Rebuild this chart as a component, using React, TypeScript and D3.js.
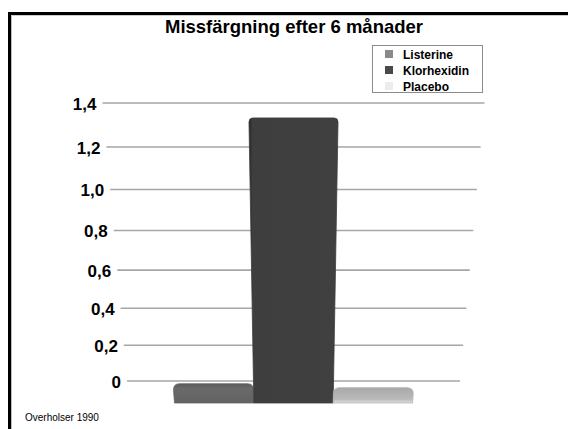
import React from "react";
import * as d3 from "d3";

const title = "Missfärgning efter 6 månader";
const categories = ["Listerine", "Klorhexidin", "Placebo"];
const values = [0.1, 1.33, 0.08];
const tickValues = [0, 0.2, 0.4, 0.6, 0.8, 1.0, 1.2, 1.4];
const tickLabels = ["0", "0,2", "0,4", "0,6", "0,8", "1,0", "1,2", "1,4"];
const source = "Overholser 1990";

const barColors = ["#646464", "#3e3e3e", "#b6b6b6"];
const legendColors = ["#8a8a8a", "#4a4a4a", "#ececec"];

const W = 568;
const H = 429;
const cx = 293.5;
const vMax = 1.4;
const k = 1.13;
// projective easing (tilted plane)
const persp = (t: number) => t / (k - (k - 1) * t);

const wallY = d3.scaleLinear().domain([0, 1]).range([381, 103]);
const frontY = d3.scaleLinear().domain([0, 1]).range([403, 101]);
const widthAtY = d3.scaleLinear().domain([381, 103]).range([333, 382]);
const band = d3.scaleBand<string>().domain(categories).range([-119, 119]).padding(0);

const yWall = (v: number) => wallY(persp(v / vMax));
const yFront = (v: number) => frontY(persp(v / vMax));
const xAt = (u: number, y: number) => cx + (u * (widthAtY(y) * 0.8 + widthAtY(403) * 0.2)) / widthAtY(403);

function barPath(u0: number, u1: number, yTop: number, yBot: number, r: number) {
  const xl0 = xAt(u0, yBot), xr0 = xAt(u1, yBot);
  const xl1 = xAt(u0, yTop), xr1 = xAt(u1, yTop);
  const p = d3.path();
  p.moveTo(xl0, yBot);
  p.lineTo(xl1, yTop + r);
  p.quadraticCurveTo(xl1, yTop, xl1 + r, yTop);
  p.lineTo(xr1 - r, yTop);
  p.quadraticCurveTo(xr1, yTop, xr1, yTop + r);
  p.lineTo(xr0, yBot);
  p.closePath();
  return p.toString();
}

export default function App() {
  const font = "'Liberation Sans', Arial, Helvetica, sans-serif";
  return (
    <svg
      width={W}
      height={H}
      style={{ position: "fixed", left: 0, top: 0, background: "#fff" }}
      fontFamily={font}
    >
      <defs>
        <linearGradient id="gL" x1="0" y1="0" x2="0" y2="1">
          <stop offset="0" stopColor="#5a5a5a" />
          <stop offset="0.25" stopColor="#6a6a6a" />
          <stop offset="1" stopColor="#626262" />
        </linearGradient>
        <linearGradient id="gP" x1="0" y1="0" x2="0" y2="1">
          <stop offset="0" stopColor="#a8a8a8" />
          <stop offset="0.75" stopColor="#bababa" />
          <stop offset="1" stopColor="#dedede" />
        </linearGradient>
        <linearGradient id="gK" x1="0" y1="0" x2="1" y2="0">
          <stop offset="0" stopColor="#262626" />
          <stop offset="0.04" stopColor="#3e3e3e" />
          <stop offset="1" stopColor="#404040" />
        </linearGradient>
      </defs>
      <rect x={0} y={0} width={W} height={H} fill="#fff" />
      {/* frame */}
      <line x1={9.5} y1={13.5} x2={W} y2={13.5} stroke="#000" strokeWidth={3} />
      <line x1={9.5} y1={12} x2={9.5} y2={H} stroke="#000" strokeWidth={3} />
      <line x1={11.5} y1={15.5} x2={W} y2={15.5} stroke="#ccc" strokeWidth={1} />
      <line x1={11.5} y1={15.5} x2={11.5} y2={H} stroke="#bbb" strokeWidth={1} />

      <text x={294} y={33} textAnchor="middle" fontSize={18.5} fontWeight="bold">
        {title}
      </text>

      {/* gridlines and tick labels */}
      {tickValues.map((v, i) => {
        const y = yWall(v);
        const w = widthAtY(y);
        return (
          <g key={i}>
            <line x1={cx - w / 2} x2={cx + w / 2} y1={y} y2={y} stroke="#a6a6a6" strokeWidth={1.6} />
            <text x={cx - w / 2 - 6} y={y + 6.5} textAnchor="end" fontSize={17} fontWeight="bold">
              {tickLabels[i]}
            </text>
          </g>
        );
      })}

      {/* bars */}
      {categories.map((c, i) => {
        const u0 = band(c)!;
        const u1 = u0 + band.bandwidth();
        const yT = yFront(values[i]);
        const yB = yFront(0);
        const fill = i === 0 ? "url(#gL)" : i === 1 ? "url(#gK)" : "url(#gP)";
        const r = i === 1 ? 4 : 6;
        return <path key={c} d={barPath(u0, u1, yT, yB, r)} fill={fill} stroke={barColors[i]} strokeWidth={0.8} />;
      })}

      {/* legend */}
      <rect x={372.5} y={45.5} width={110} height={47} fill="#fff" stroke="#8c8c8c" strokeWidth={1} />
      {categories.map((c, i) => (
        <g key={c}>
          <rect x={385} y={50 + i * 16} width={8} height={8} fill={legendColors[i]} />
          <text x={403} y={58.5 + i * 16} fontSize={12} fontWeight="bold">
            {c}
          </text>
        </g>
      ))}

      <text x={25} y={421} fontSize={10}>
        {source}
      </text>
    </svg>
  );
}
